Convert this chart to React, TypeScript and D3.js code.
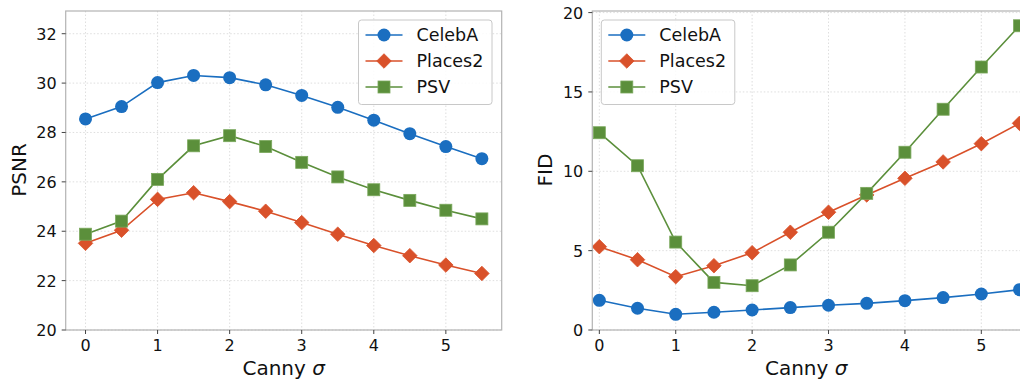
import React from 'react';
import * as d3 from 'd3';

const sigma = [0, 0.5, 1, 1.5, 2, 2.5, 3, 3.5, 4, 4.5, 5, 5.5];
const xTicks = [0, 1, 2, 3, 4, 5];

const psnrCeleb = [28.55, 29.05, 30.02, 30.31, 30.22, 29.93, 29.5, 29.02, 28.5, 27.95, 27.43, 26.94];
const psnrPlaces = [23.51, 24.04, 25.29, 25.56, 25.2, 24.81, 24.35, 23.88, 23.42, 23.01, 22.63, 22.29];
const psnrPsv = [23.88, 24.41, 26.1, 27.46, 27.87, 27.43, 26.79, 26.2, 25.68, 25.25, 24.85, 24.5];
const psnrTicks = [20, 22, 24, 26, 28, 30, 32];

const fidCeleb = [1.87, 1.37, 0.99, 1.12, 1.26, 1.41, 1.56, 1.68, 1.85, 2.04, 2.27, 2.54];
const fidPlaces = [5.25, 4.43, 3.36, 4.05, 4.87, 6.16, 7.42, 8.51, 9.56, 10.59, 11.74, 13.02];
const fidPsv = [12.43, 10.35, 5.54, 3.0, 2.79, 4.1, 6.16, 8.61, 11.2, 13.91, 16.57, 19.17];
const fidTicks = [0, 5, 10, 15, 20];

const seriesNames = ['CelebA', 'Places2', 'PSV'];
const colors = ['#1a6ec0', '#d9512a', '#5b8f3b'];
const markerEdge = ['#1a6ec0', '#d9512a', '#7aa85c'];

const font = 'DejaVu Sans, sans-serif';

type PanelProps = {
  left: number;
  right: number;
  xDomain: [number, number];
  yDomain: [number, number];
  yTicks: number[];
  series: number[][];
  yLabel: string;
  yLabelX: number;
  legendX: number;
  clipId: string;
};

const diamond = d3.symbol().type(d3.symbolDiamond2).size(135)() || '';

const Marker = ({ kind, x, y, i }: { kind: number; x: number; y: number; i: number }) => {
  if (kind === 0) return <circle cx={x} cy={y} r={6.5} fill={colors[i]} />;
  if (kind === 1) {
    return <path d={diamond} transform={`translate(${x},${y})`} fill={colors[i]} stroke={markerEdge[i]} strokeWidth={0.8} />;
  }
  return <rect x={x - 6} y={y - 6} width={12} height={12} fill={colors[i]} stroke={markerEdge[i]} strokeWidth={0.8} />;
};

const Panel = (p: PanelProps) => {
  const top = 11;
  const bottom = 330;
  const x = d3.scaleLinear().domain(p.xDomain).range([p.left, p.right]);
  const y = d3.scaleLinear().domain(p.yDomain).range([bottom, top]);
  const line = d3.line<number>().x((_, i) => x(sigma[i])).y(d => y(d));
  const clipW = Math.min(p.right, 1020) - p.left;

  return (
    <g fontFamily={font}>
      <defs>
        <clipPath id={p.clipId}>
          <rect x={p.left} y={top - 8} width={p.right - p.left + 8} height={bottom - top + 16} />
        </clipPath>
      </defs>
      {/* grid */}
      {xTicks.map(t => (
        <line key={'gx' + t} x1={x(t)} x2={x(t)} y1={top} y2={bottom} stroke="#d6d6d6" strokeWidth={0.8} strokeDasharray="1.5,2" />
      ))}
      {p.yTicks.map(t => (
        <line key={'gy' + t} x1={p.left} x2={p.right} y1={y(t)} y2={y(t)} stroke="#d6d6d6" strokeWidth={0.8} strokeDasharray="1.5,2" />
      ))}
      {/* series */}
      <g clipPath={`url(#${p.clipId})`}>
        {p.series.map((s, i) => (
          <g key={i}>
            <path d={line(s) || ''} fill="none" stroke={colors[i]} strokeWidth={1.6} />
            {s.map((v, j) => (
              <Marker key={j} kind={i} x={x(sigma[j])} y={y(v)} i={i} />
            ))}
          </g>
        ))}
      </g>
      {/* frame */}
      <rect x={p.left} y={top} width={p.right - p.left} height={bottom - top} fill="none" stroke="#b3b3b3" strokeWidth={1.2} />
      {/* ticks */}
      {xTicks.map(t => (
        <g key={'tx' + t}>
          <line x1={x(t)} x2={x(t)} y1={bottom} y2={bottom + 4} stroke="#444" strokeWidth={1} />
          <text x={x(t)} y={bottom + 21} textAnchor="middle" fontSize={16} fill="#111">{t}</text>
        </g>
      ))}
      {p.yTicks.map(t => (
        <g key={'ty' + t}>
          <line x1={p.left - 4} x2={p.left} y1={y(t)} y2={y(t)} stroke="#444" strokeWidth={1} />
          <text x={p.left - 9} y={y(t) + 6} textAnchor="end" fontSize={16} fill="#111">{t}</text>
        </g>
      ))}
      {/* labels */}
      <text x={p.left + clipW / 2} y={375} textAnchor="middle" fontSize={20} fill="#111">
        Canny <tspan fontStyle="italic">σ</tspan>
      </text>
      <text transform={`translate(${p.yLabelX},170) rotate(-90)`} textAnchor="middle" fontSize={20} fill="#111">{p.yLabel}</text>
      {/* legend */}
      <g transform={`translate(${p.legendX},20)`}>
        <rect x={0} y={0} width={133.5} height={84.5} rx={3} fill="white" fillOpacity={0.85} stroke="#c8c8c8" strokeWidth={1} />
        {seriesNames.map((n, i) => (
          <g key={n} transform={`translate(0,${15 + i * 26})`}>
            <line x1={7} x2={44} y1={0} y2={0} stroke={colors[i]} strokeWidth={1.6} />
            <Marker kind={i} x={25.5} y={0} i={i} />
            <text x={58} y={6} fontSize={17.5} fill="#111">{n}</text>
          </g>
        ))}
      </g>
    </g>
  );
};

const App = () => {
  return (
    <svg width={1020} height={380} style={{ position: 'absolute', left: 0, top: 0, background: 'white' }}>
      <rect width={1020} height={380} fill="white" />
      <Panel
        left={65.7}
        right={501.7}
        xDomain={[-0.275, 5.775]}
        yDomain={[20, 32.92]}
        yTicks={psnrTicks}
        series={[psnrCeleb, psnrPlaces, psnrPsv]}
        yLabel="PSNR"
        yLabelX={26}
        legendX={358.5}
        clipId="c1"
      />
      <Panel
        left={592.3}
        right={1028}
        xDomain={[-0.092, 5.611]}
        yDomain={[0, 20.1]}
        yTicks={fidTicks}
        series={[fidCeleb, fidPlaces, fidPsv]}
        yLabel="FID"
        yLabelX={552}
        legendX={601.3}
        clipId="c2"
      />
    </svg>
  );
};

export default App;
